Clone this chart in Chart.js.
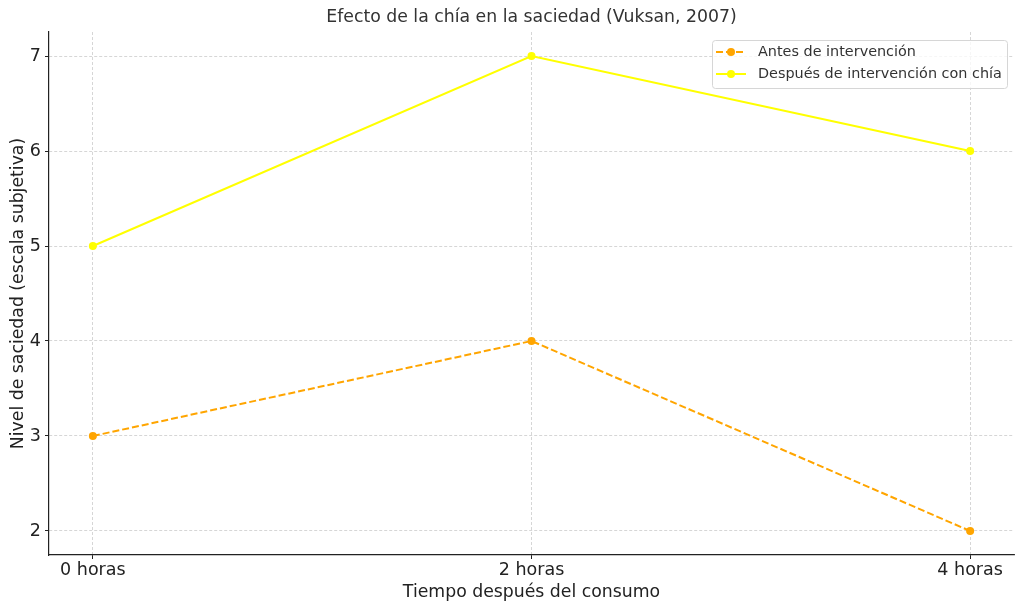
<!DOCTYPE html>
<html><head><meta charset="utf-8">
<script src="https://cdn.jsdelivr.net/npm/chart.js@4/dist/chart.umd.min.js"></script>
<style>html,body{margin:0;padding:0;background:#fff}#wrap{width:1024px;height:611px}</style>
</head><body><div id="wrap"><canvas id="c" width="1024" height="611"></canvas></div>
<script>
const categories = ['0 horas', '2 horas', '4 horas'];
const antes = [3, 4, 2];
const despues = [5, 7, 6];
const yTicks = [2, 3, 4, 5, 6, 7];
const titleText = 'Efecto de la chía en la saciedad (Vuksan, 2007)';
const xTitle = 'Tiempo después del consumo';
const yTitle = 'Nivel de saciedad (escala subjetiva)';
const FONT = "'DejaVu Sans', sans-serif";

const overlay = {
  id: 'overlay',
  afterDraw(chart) {
    const ctx = chart.ctx, a = chart.chartArea;
    ctx.save();
    ctx.fillStyle = '#333';
    ctx.font = '17.3px ' + FONT;
    ctx.textAlign = 'center'; ctx.textBaseline = 'middle';
    ctx.fillText(titleText, (a.left + a.right) / 2, 18);
    // legend
    const lx = 712, ly = 40, lw = 295, lh = 48;
    ctx.fillStyle = 'rgba(255,255,255,0.8)';
    ctx.strokeStyle = '#d6d6d6'; ctx.lineWidth = 1;
    ctx.beginPath();
    if (ctx.roundRect) ctx.roundRect(lx + 0.5, ly + 0.5, lw, lh, 3); else ctx.rect(lx + 0.5, ly + 0.5, lw, lh);
    ctx.fill(); ctx.stroke();
    chart.data.datasets.forEach((ds, i) => {
      const y = 52 + i * 22;
      ctx.strokeStyle = ds.borderColor; ctx.lineWidth = 2;
      ctx.setLineDash(ds.borderDash || []);
      ctx.beginPath(); ctx.moveTo(716, y); ctx.lineTo(746, y); ctx.stroke();
      ctx.setLineDash([]);
      ctx.fillStyle = ds.pointBackgroundColor;
      ctx.beginPath(); ctx.arc(731, y, 4, 0, Math.PI * 2); ctx.fill();
      ctx.fillStyle = '#333'; ctx.font = '14.4px ' + FONT;
      ctx.textAlign = 'left'; ctx.textBaseline = 'middle';
      ctx.fillText(ds.label, 758, y);
    });
    ctx.restore();
  }
};

new Chart(document.getElementById('c'), {
  type: 'line',
  data: {
    datasets: [
      { label: 'Antes de intervención', data: antes.map((v, i) => ({x: i, y: v})),
        borderColor: '#FFA500', backgroundColor: '#FFA500', pointBackgroundColor: '#FFA500', pointBorderColor: '#FFA500',
        borderWidth: 2, borderDash: [7, 3], pointRadius: 4, pointBorderWidth: 0, tension: 0 },
      { label: 'Después de intervención con chía', data: despues.map((v, i) => ({x: i, y: v})),
        borderColor: '#FFFF00', backgroundColor: '#FFFF00', pointBackgroundColor: '#FFFF00', pointBorderColor: '#FFFF00',
        borderWidth: 2, pointRadius: 4, pointBorderWidth: 0, tension: 0 }
    ]
  },
  options: {
    responsive: false, animation: false, devicePixelRatio: 1,
    layout: { padding: { top: 32, right: 10, left: 0, bottom: 0 } },
    plugins: { legend: { display: false }, title: { display: false }, tooltip: { enabled: false } },
    scales: {
      x: {
        type: 'linear', min: -0.1, max: 2.1,
        afterBuildTicks: s => { s.ticks = categories.map((c, i) => ({ value: i })); },
        afterFit: s => { s.height = 56; },
        ticks: { callback: v => categories[v] ?? '', color: '#222', font: { family: FONT, size: 17.5 }, padding: 1, maxRotation: 0, autoSkip: false },
        grid: { color: '#cccccc', lineWidth: 0.8, tickColor: '#222', tickLength: 4, tickWidth: 1 },
        border: { display: true, color: '#222', width: 1.2, dash: [3, 2] },
        title: { display: true, text: xTitle, color: '#222', font: { family: FONT, size: 17.3 }, padding: { top: 0, bottom: 8 } }
      },
      y: {
        type: 'linear', min: 1.747, max: 7.253,
        afterBuildTicks: s => { s.ticks = yTicks.map(v => ({ value: v })); },
        afterFit: s => { s.width = 49; },
        ticks: { color: '#222', font: { family: FONT, size: 17.5 }, padding: 4 },
        grid: { color: '#cccccc', lineWidth: 0.8, tickColor: '#222', tickLength: 4, tickWidth: 1 },
        border: { display: true, color: '#222', width: 1.2, dash: [3, 2] },
        title: { display: true, text: yTitle, color: '#222', font: { family: FONT, size: 17.3 }, padding: { top: 8, bottom: 0 } }
      }
    }
  },
  plugins: [overlay]
});
</script></body></html>
